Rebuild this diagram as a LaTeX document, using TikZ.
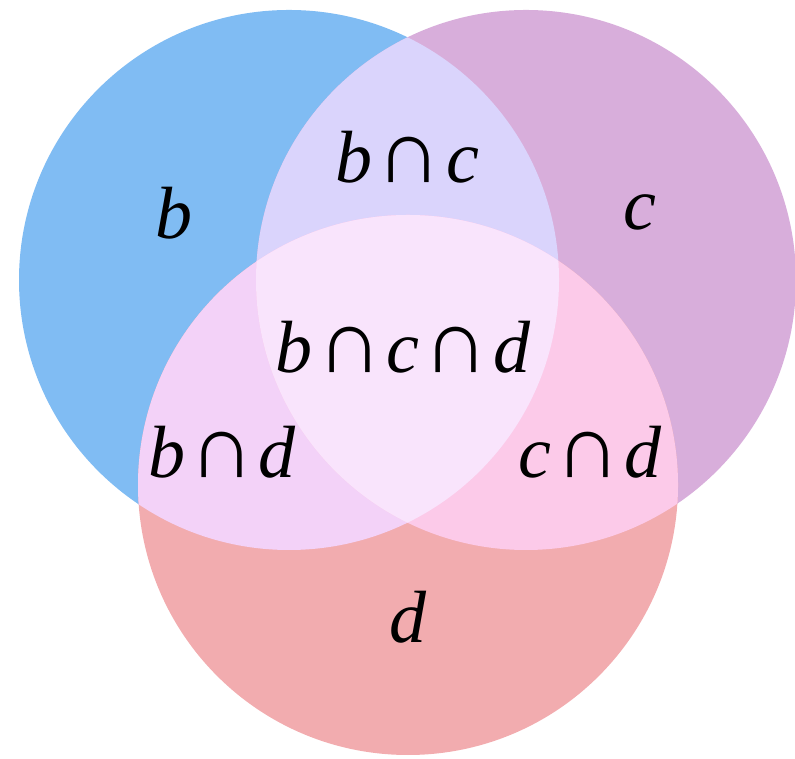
\documentclass[tikz,border=0pt]{standalone}
\usepackage{fontspec}
\newfontfamily\setfont{Liberation Serif}
\definecolor{setb}{HTML}{80BCF3}
\definecolor{setc}{HTML}{D8AEDB}
\definecolor{setd}{HTML}{F2ACAF}
\definecolor{setbc}{HTML}{DAD4FC}
\definecolor{setbd}{HTML}{F3D2F8}
\definecolor{setcd}{HTML}{FCCAE9}
\definecolor{setbcd}{HTML}{F9E4FC}
\newcommand{\inter}{\hspace{0.06em}{\upshape\fontsize{45}{45}\selectfont ∩}\hspace{0.06em}}
\begin{document}
\begin{tikzpicture}[x=0.5pt,y=0.5pt,
    lbl/.style={anchor=base,inner sep=0pt,font=\setfont\itshape\fontsize{37}{44}\selectfont}]
\useasboundingbox (0,0) rectangle (795,758);
\coordinate (cb) at (289,478);
\coordinate (cc) at (526,478);
\coordinate (cd) at (408,273);
\fill[setb] (cb) circle (270);
\fill[setc] (cc) circle (270);
\fill[setd] (cd) circle (270);
\begin{scope}
    \clip (cb) circle (270);
    \fill[setbc] (cc) circle (270);
    \fill[setbd] (cd) circle (270);
\end{scope}
\begin{scope}
    \clip (cc) circle (270);
    \fill[setcd] (cd) circle (270);
    \clip (cb) circle (270);
    \fill[setbcd] (cd) circle (270);
\end{scope}
\node[lbl] (lb) at (174,519) {b};
\node[lbl] (lc) at (640,528) {c};
\node[lbl] (lbc) at (407,575) {b\inter c};
\node[lbl] (lbcd) at (403,385) {b\inter c\inter d};
\node[lbl] (lbd) at (222,280) {b\inter d};
\node[lbl] (lcd) at (590,280) {c\inter d};
\node[lbl] (ld) at (408,115) {d};
\end{tikzpicture}
\end{document}
